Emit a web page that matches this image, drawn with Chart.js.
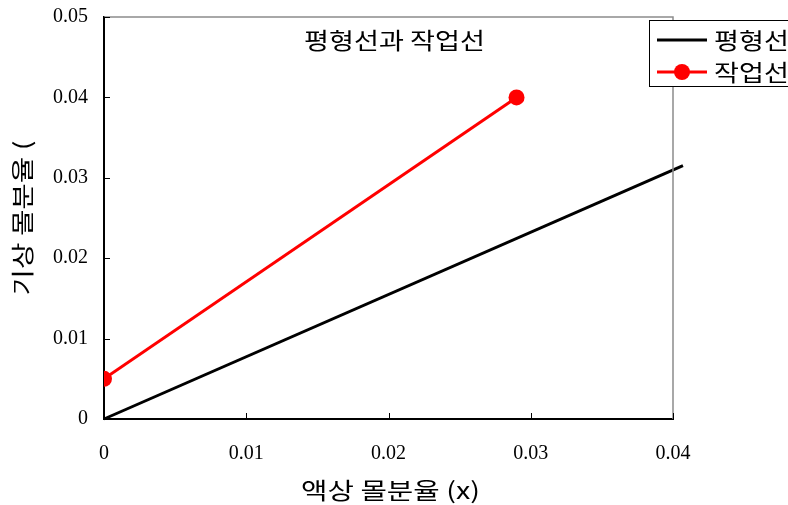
<!DOCTYPE html>
<html>
<head>
<meta charset="utf-8">
<script src="https://cdn.jsdelivr.net/npm/chart.js@4/dist/chart.umd.min.js"></script>
<style>
  html, body { margin: 0; padding: 0; background: #fff; }
  #wrap { width: 788px; height: 505px; position: relative; }
</style>
</head>
<body>
<div id="wrap"><canvas id="c"></canvas></div>
<script>
// equilibrium line (평형선) and operating line (작업선)
const eqX = [0, 0.0407];
const eqY = [0, 0.0315];
const opX = [0, 0.029];
const opY = [0.005, 0.04];
const xTicks = [0, 0.01, 0.02, 0.03, 0.04];
const yTicks = [0, 0.01, 0.02, 0.03, 0.04, 0.05];
const seriesNames = ['평형선', '작업선'];
const chartTitle = '평형선과 작업선';
const xTitle = '액상 몰분율 (x)';
const yTitle = '기상 몰분율 (';

const KR = '"Noto Sans CJK KR", "Noto Sans", sans-serif';
const NUM = '"Liberation Serif", "DejaVu Serif", serif';

function fmt(v) {
  return v === 0 ? '0' : v.toFixed(2);
}

const zip = (xs, ys) => xs.map((x, i) => ({ x, y: ys[i] }));

// korean text, stretched a bit wider like the original figure font
function krText(ctx, text, x, y, size, sx) {
  ctx.save();
  ctx.translate(x, y);
  ctx.scale(sx, 1);
  ctx.font = size + 'px ' + KR;
  ctx.fillText(text, 0, 0);
  ctx.restore();
}

const framePlugin = {
  id: 'frame',
  afterDraw(chart) {
    const { ctx, chartArea: ca, scales } = chart;
    ctx.save();
    // gray top / right frame
    ctx.strokeStyle = '#8c8c8c';
    ctx.lineWidth = 1.5;
    ctx.beginPath();
    ctx.moveTo(ca.left, ca.top);
    ctx.lineTo(ca.right, ca.top);
    ctx.lineTo(ca.right, ca.bottom);
    ctx.stroke();

    // inward ticks
    ctx.strokeStyle = '#000';
    ctx.lineWidth = 1;
    ctx.beginPath();
    for (const v of xTicks) {
      const px = Math.round(scales.x.getPixelForValue(v)) + 0.5;
      ctx.moveTo(px, ca.bottom);
      ctx.lineTo(px, ca.bottom - 6);
    }
    for (const v of yTicks) {
      const py = Math.round(scales.y.getPixelForValue(v)) + 0.5;
      ctx.moveTo(ca.left, py);
      ctx.lineTo(ca.left + 6, py);
    }
    ctx.stroke();

    ctx.fillStyle = '#000';
    ctx.textAlign = 'center';
    ctx.textBaseline = 'middle';
    // title inside the plot
    krText(ctx, chartTitle, (ca.left + ca.right) / 2 + 6, ca.top + 23, 23, 1.18);
    // axis titles
    krText(ctx, xTitle, (ca.left + ca.right) / 2 + 2, 490, 23, 1.25);
    ctx.save();
    ctx.translate(22, (ca.top + ca.bottom) / 2);
    ctx.rotate(-Math.PI / 2);
    krText(ctx, yTitle, 0, 0, 23, 1.25);
    ctx.restore();

    // legend box
    const bx = 649, by = 20, bw = 150, bh = 66;
    ctx.fillStyle = '#fff';
    ctx.fillRect(bx, by, bw, bh);
    ctx.strokeStyle = '#000';
    ctx.lineWidth = 1;
    ctx.strokeRect(bx + 0.5, by + 0.5, bw, bh);
    const rows = [40, 72];
    chart.data.datasets.forEach((ds, i) => {
      const y = rows[i];
      ctx.strokeStyle = ds.borderColor;
      ctx.lineWidth = ds.borderWidth;
      ctx.beginPath();
      ctx.moveTo(657, y);
      ctx.lineTo(707, y);
      ctx.stroke();
      if (ds.pointRadius > 0) {
        ctx.fillStyle = ds.pointBackgroundColor;
        ctx.beginPath();
        ctx.arc(682, y, ds.pointRadius, 0, Math.PI * 2);
        ctx.fill();
      }
      ctx.fillStyle = '#000';
      ctx.textAlign = 'left';
      krText(ctx, ds.label, 714, y, 23, 1.18);
    });
    ctx.restore();
  }
};

new Chart(document.getElementById('c'), {
  type: 'scatter',
  data: {
    datasets: [
      {
        label: seriesNames[0],
        data: zip(eqX, eqY),
        showLine: true,
        borderColor: '#000',
        borderWidth: 3,
        pointRadius: 0,
        clip: false
      },
      {
        label: seriesNames[1],
        data: zip(opX, opY),
        showLine: true,
        borderColor: '#ff0000',
        borderWidth: 3,
        pointRadius: 8,
        pointBackgroundColor: '#ff0000',
        pointBorderColor: '#ff0000',
        pointBorderWidth: 0
      }
    ]
  },
  options: {
    responsive: true,
    maintainAspectRatio: false,
    animation: false,
    layout: { padding: { left: 0, right: 115, top: 17, bottom: 0 } },
    scales: {
      x: {
        type: 'linear',
        min: 0, max: 0.04,
        afterFit: s => { s.height = 86; s.paddingLeft = 0; s.paddingRight = 0; },
        afterBuildTicks: s => { s.ticks = xTicks.map(v => ({ value: v })); },
        ticks: { callback: fmt, color: '#000', font: { family: NUM, size: 20 }, padding: 23, maxRotation: 0 },
        grid: { display: false, drawTicks: false },
        border: { color: '#000', width: 2 }
      },
      y: {
        type: 'linear',
        min: 0, max: 0.05,
        afterFit: s => { s.width = 104; s.paddingTop = 0; s.paddingBottom = 0; },
        afterBuildTicks: s => { s.ticks = yTicks.map(v => ({ value: v })); },
        ticks: { callback: fmt, color: '#000', font: { family: NUM, size: 20 }, padding: 16 },
        grid: { display: false, drawTicks: false },
        border: { color: '#000', width: 2 }
      }
    },
    plugins: {
      legend: { display: false },
      tooltip: { enabled: false }
    }
  },
  plugins: [framePlugin]
});
</script>
</body>
</html>
